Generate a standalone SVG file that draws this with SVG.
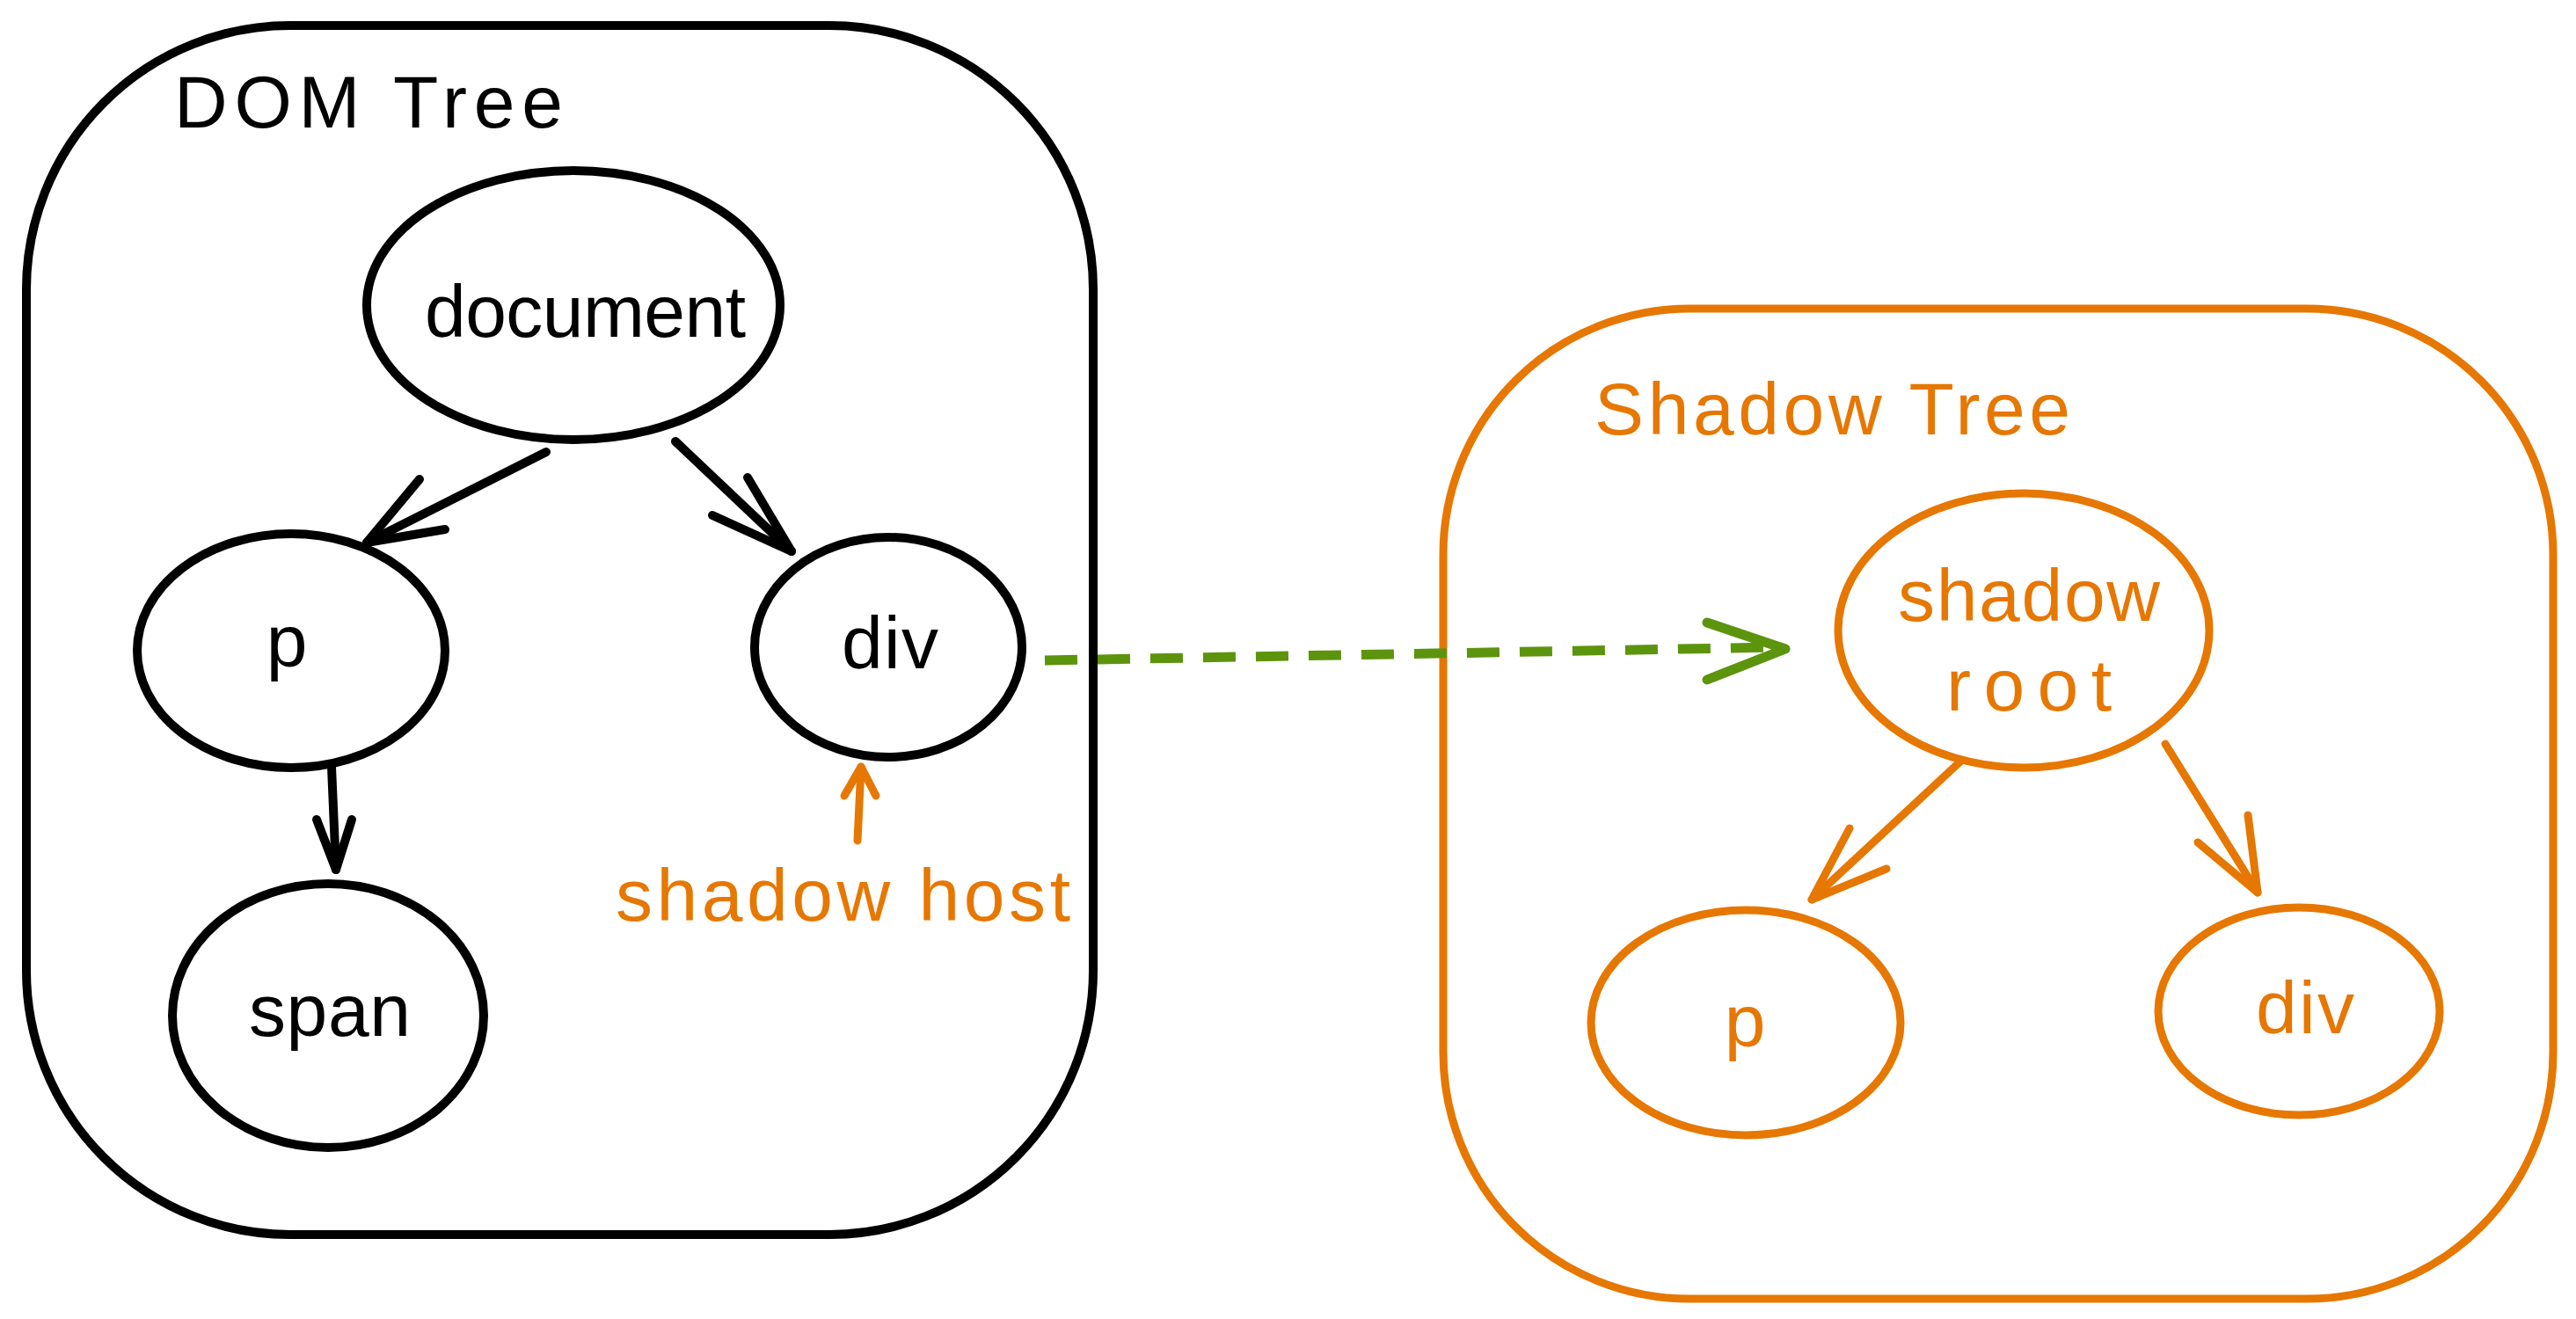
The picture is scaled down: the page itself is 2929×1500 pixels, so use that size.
<svg xmlns="http://www.w3.org/2000/svg" width="2929" height="1500" viewBox="0 0 2929 1500">
<style>
.bk{fill:none;stroke:#000;stroke-width:10;stroke-linecap:round;stroke-linejoin:round}
.or{fill:none;stroke:#e67700;stroke-width:9;stroke-linecap:round;stroke-linejoin:round}
.gr{fill:none;stroke:#5c940d;stroke-width:11;stroke-linejoin:round}
.tb{font-family:"Liberation Sans",Arial,sans-serif;font-size:84px;fill:#000}
.to{font-family:"Liberation Sans",Arial,sans-serif;font-size:84px;fill:#e67700}
</style>
<rect width="2929" height="1500" fill="#fff"/>
<g id="dom-tree">
<rect x="30" y="29" width="1213" height="1375" rx="300" ry="300" class="bk" stroke-width="11"/>
<text x="198" y="145" class="tb" textLength="442" lengthAdjust="spacing">DOM Tree</text>
</g>
<g id="shadow-tree">
<rect x="1641" y="351" width="1262" height="1126" rx="280" ry="280" class="or"/>
<text x="1813" y="494" class="to" textLength="541" lengthAdjust="spacing">Shadow Tree</text>
</g>
<g id="node-document">
<ellipse cx="652" cy="347" rx="235" ry="153" class="bk"/>
<text x="483" y="383" class="tb" textLength="365" lengthAdjust="spacing">document</text>
</g>
<g id="node-p">
<ellipse cx="331" cy="740" rx="175" ry="133" class="bk"/>
<text x="326" y="758" class="tb" text-anchor="middle">p</text>
</g>
<g id="node-div">
<ellipse cx="1010" cy="736" rx="152" ry="125" class="bk"/>
<text x="957" y="760" class="tb" textLength="110" lengthAdjust="spacing">div</text>
</g>
<g id="node-span">
<ellipse cx="373" cy="1155" rx="177" ry="150" class="bk"/>
<text x="283" y="1178" class="tb" textLength="184" lengthAdjust="spacing">span</text>
</g>
<g id="label-shadow-host">
<text x="700" y="1047" class="to" textLength="517" lengthAdjust="spacing">shadow host</text>
</g>
<g id="node-shadow-root">
<ellipse cx="2301" cy="717" rx="211" ry="156" class="or"/>
<text x="2158" y="706" class="to" textLength="298" lengthAdjust="spacing">shadow</text>
<text x="2213" y="808" class="to" textLength="188" lengthAdjust="spacing">root</text>
</g>
<g id="node-shadow-p">
<ellipse cx="1985" cy="1163" rx="176" ry="128" class="or"/>
<text x="1984" y="1190" class="to" text-anchor="middle">p</text>
</g>
<g id="node-shadow-div">
<ellipse cx="2614" cy="1150" rx="160" ry="118" class="or"/>
<text x="2565" y="1175" class="to" textLength="112" lengthAdjust="spacing">div</text>
</g>
<g id="connectors">
<line x1="621" y1="514" x2="417" y2="617" class="bk"/>
<polyline points="477,545 417,617 506,602" class="bk"/>
<line x1="768" y1="502" x2="900" y2="627" class="bk"/>
<polyline points="850,543 900,627 810,586" class="bk"/>
<line x1="377" y1="872" x2="382" y2="989" class="bk"/>
<polyline points="360,932 382,989 400,932" class="bk"/>
<line x1="975" y1="956" x2="979" y2="872" class="or"/>
<polyline points="960,905 979,872 996,905" class="or"/>
<line x1="1188" y1="751" x2="2024" y2="736" class="gr" stroke-dasharray="37 23"/>
<polyline points="1941,708 2030,738 1941,773" class="gr" stroke-linecap="round"/>
<line x1="2230" y1="865" x2="2060" y2="1023" class="or"/>
<polyline points="2103,942 2060,1023 2145,988" class="or"/>
<line x1="2462" y1="846" x2="2567" y2="1015" class="or"/>
<polyline points="2556,927 2567,1015 2499,958" class="or"/>
</g>
</svg>
